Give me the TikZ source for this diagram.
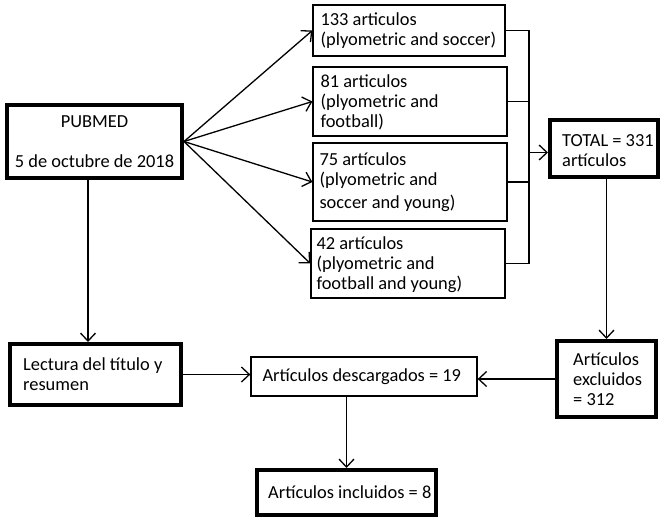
\documentclass[tikz,border=0pt]{standalone}
\usepackage{fontspec}
\setmainfont{Carlito}
\usetikzlibrary{arrows.meta}
\begin{document}
\begin{tikzpicture}[x=1pt,y=-1pt,
  every node/.style={font=\fontsize{18.4}{20}\selectfont},
  thinbox/.style={draw, line width=1.3pt, rectangle, inner sep=0pt},
  thickbox/.style={draw, line width=4pt, rectangle, inner sep=0pt},
  txt/.style={align=left, inner sep=0pt, anchor=west},
  arr/.style={line width=1.3pt, -{Straight Barb[length=8pt,width=15pt]}},
  ln/.style={line width=1.3pt}]
\useasboundingbox (0,0) rectangle (661,519);
% boxes
\node[thickbox, minimum width=175pt, minimum height=73pt, align=center] (pub) at (94.5,141.5) {PUBMED\\[20pt]5 de octubre de 2018};
\node[thinbox, minimum width=192pt, minimum height=51pt] (b1) at (409,30.5) {};
\node[thinbox, minimum width=194pt, minimum height=69pt] (b2) at (410,101.5) {};
\node[thinbox, minimum width=194pt, minimum height=78pt] (b3) at (410,182) {};
\node[thinbox, minimum width=194pt, minimum height=69pt] (b4) at (408,263.5) {};
\node[thickbox, minimum width=108pt, minimum height=57pt] (total) at (604,148.5) {};
\node[thickbox, minimum width=171pt, minimum height=61pt] (lect) at (95.5,374.5) {};
\node[thinbox, minimum width=226pt, minimum height=39pt] (desc) at (364,376.5) {};
\node[thickbox, minimum width=99pt, minimum height=76pt] (excl) at (606.5,379) {};
\node[thickbox, minimum width=179pt, minimum height=45pt] (incl) at (346.5,492.5) {};
% texts
\node[txt] (t1) at ([xshift=8pt]b1.west) {133 articulos\\(plyometric and soccer)};
\node[txt] (t2) at ([xshift=8pt,yshift=-1pt]b2.west) {81 articulos\\(plyometric and\\football)};
\node[txt] (t3) at ([xshift=7pt]b3.west) {75 artículos\\(plyometric and\\[3pt]soccer and young)};
\node[txt] (t4) at ([xshift=6pt,yshift=-1pt]b4.west) {42 artículos\\(plyometric and\\football and young)};
\node[txt] (tt) at ([xshift=14pt,yshift=-2pt]total.west) {TOTAL = 331\\artículos};
\node[txt] (tl) at ([xshift=15pt]lect.west) {Lectura del título y\\resumen};
\node[txt] (td) at ([xshift=12pt]desc.west) {Artículos descargados = 19};
\node[txt] (te) at ([xshift=18pt]excl.west) {Artículos\\excluidos\\= 312};
\node[txt] (ti) at ([xshift=13pt]incl.west) {Artículos incluidos = 8};
% connectors
\draw[arr] (pub.east) -- (b1.west);
\draw[arr] (pub.east) -- (b2.west);
\draw[arr] (pub.east) -- (b3.west);
\draw[arr] (pub.east) -- (b4.west);
\coordinate (bx) at (529,0);
\draw[ln] (b1.east) -- (b1.east -| bx) -- (b4.east -| bx) -- (b4.east);
\draw[ln] (b2.east) -- (b2.east -| bx);
\draw[ln] (b3.east) -- (b3.east -| bx);
\coordinate (tin) at ([yshift=-4pt]total.west);
\draw[arr] (bx |- tin) -- (tin);
\coordinate (vx) at (88,0);
\draw[arr] (vx |- pub.south) -- (vx |- lect.north);
\draw[arr] (lect.east) -- (lect.east -| desc.west);
\draw[arr] (excl.north |- total.south) -- (excl.north);
\draw[arr] (excl.west) -- (excl.west -| desc.east);
\draw[arr] (incl.north |- desc.south) -- (incl.north);
\end{tikzpicture}
\end{document}
